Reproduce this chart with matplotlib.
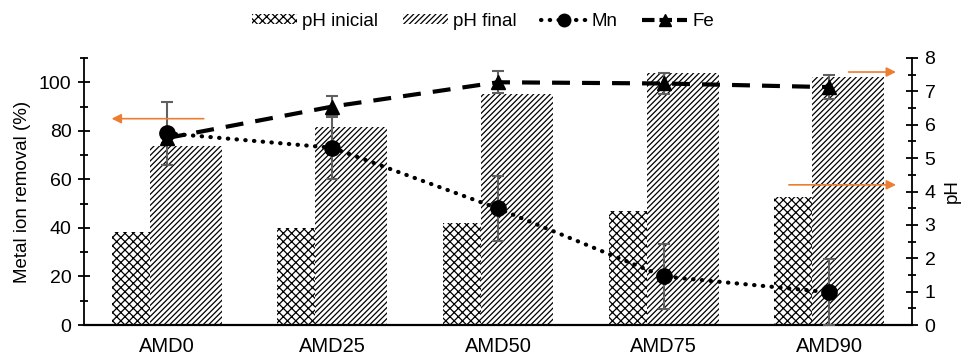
import matplotlib.pyplot as plt
import matplotlib.patches as mpatches
import matplotlib.lines as mlines
import numpy as np

plt.rcParams['font.family'] = ['Liberation Sans', 'DejaVu Sans']
plt.rcParams['hatch.linewidth'] = 0.9

samples = ['AMD0', 'AMD25', 'AMD50', 'AMD75', 'AMD90']
ph_inicial = [2.78, 2.9, 3.05, 3.42, 3.85]
ph_final = [5.35, 5.92, 6.92, 7.55, 7.43]
mn_removal = [79, 73, 48, 20, 13.5]
mn_err = [13, 13, 13.5, 13.5, 13.5]
fe_removal = [77, 90, 100, 99.5, 98]
fe_err = [2, 4.5, 4.5, 4.5, 5]

x = np.arange(len(samples))
w = 0.435
orange = '#ED7D31'
err_col = '#606060'
mn_ls = (0, (0.1, 2.0))
fe_ls = (0, (4.3, 2.9))
hatch_ini = 'xxxx'
hatch_fin = '//////'

fig = plt.figure(figsize=(9.66, 3.57), dpi=100)
ax = fig.add_axes([84/966, 32/357, 828/966, 267/357])
ax2 = ax.twinx()
ax.set_zorder(ax2.get_zorder() + 1)
ax.patch.set_visible(False)

# bars (pH, right axis)
ax2.bar(x - 0.115, ph_inicial, w, color='white', edgecolor='black', linewidth=0, hatch=hatch_ini)
ax2.bar(x + 0.115, ph_final, w, color='white', edgecolor='black', linewidth=0, hatch=hatch_fin)

# metal removal lines (left axis)
for vals, errs in ((mn_removal, mn_err), (fe_removal, fe_err)):
    ax.errorbar(x, vals, yerr=errs, fmt='none', ecolor=err_col, elinewidth=1.5,
                capsize=4, capthick=1.5, zorder=3)
ax.plot(x, mn_removal, color='black', linestyle=mn_ls, linewidth=3, dash_capstyle='round',
        marker='o', markersize=11, zorder=4)
ax.plot(x, fe_removal, color='black', linestyle=fe_ls, linewidth=3,
        marker='^', markersize=10, zorder=4)

ax.set_xlim(-0.5, len(samples) - 0.5)
ax.set_ylim(0, 110)
ax2.set_ylim(0, 8)
ax.set_yticks(np.arange(0, 101, 20))
ax.set_yticks(np.arange(0, 111, 10), minor=True)
ax2.set_yticks(np.arange(0, 9, 1))
ax2.set_yticks(np.arange(0, 8.01, 0.5), minor=True)
ax.set_xticks(x)
ax.set_xticklabels(samples)

for a in (ax, ax2):
    a.spines['top'].set_visible(False)
    a.tick_params(axis='y', which='major', direction='inout', length=8, width=1.3, labelsize=14, pad=5)
    a.tick_params(axis='y', which='minor', direction='inout', length=6, width=1.3)
ax2.spines['left'].set_visible(False)
ax.spines['right'].set_visible(False)
ax.spines['left'].set_linewidth(1.3)
ax2.spines['right'].set_linewidth(1.3)
ax.spines['bottom'].set_linewidth(1.6)
ax2.spines['bottom'].set_visible(False)
ax.tick_params(axis='x', length=0, labelsize=14.5, pad=9)

ax.set_ylabel('Metal ion removal (%)', fontsize=13.5, labelpad=6)
ax2.set_ylabel('pH', fontsize=13.5, labelpad=6)

# orange arrows pointing to the axes
arrow = dict(arrowstyle='-|>', color=orange, lw=1.2, mutation_scale=14)
ax.annotate('', xy=(-0.35, 85), xytext=(0.24, 85), arrowprops=arrow)
ax2.annotate('', xy=(4.42, 7.58), xytext=(4.1, 7.58), arrowprops=arrow)
ax2.annotate('', xy=(4.42, 4.2), xytext=(3.74, 4.2), arrowprops=arrow)

handles = [
    mpatches.Patch(facecolor='white', edgecolor='black', linewidth=0, hatch=hatch_ini, label='pH inicial'),
    mpatches.Patch(facecolor='white', edgecolor='black', linewidth=0, hatch=hatch_fin, label='pH final'),
    mlines.Line2D([], [], color='black', linestyle=mn_ls, linewidth=3, dash_capstyle='round',
                  marker='o', markersize=9, label='Mn'),
    mlines.Line2D([], [], color='black', linestyle=(0, (3, 1.2)), linewidth=3, marker='^', markersize=8, label='Fe'),
]
fig.legend(handles=handles, loc='center', bbox_to_anchor=(0.5, 0.94), ncol=4, frameon=False,
           fontsize=13.5, handlelength=2.4, handleheight=0.45, columnspacing=1.3, handletextpad=0.3)

fig.savefig('out.png', dpi=100)
